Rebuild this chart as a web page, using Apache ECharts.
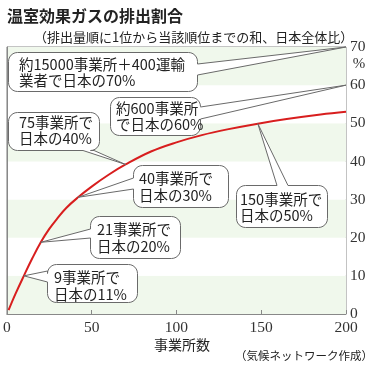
<!DOCTYPE html>
<html><head><meta charset="utf-8">
<script src="https://cdn.jsdelivr.net/npm/echarts/dist/echarts.min.js"></script>
<style>html,body{margin:0;padding:0;background:#fff}#c{width:379px;height:367px}</style>
</head><body><div id="c"></div>
<script>
// ---- data ----
const facilityCount = [1, 5, 10, 15, 20, 25, 30, 35, 42, 50, 60, 70, 85, 100, 115, 130, 148, 165, 185, 200];
const cumulativeShare = [1.0, 5.2, 10.0, 14.6, 18.8, 22.3, 25.2, 27.8, 30.6, 33.4, 36.5, 39.2, 42.6, 45.0, 46.9, 48.4, 49.9, 51.1, 52.3, 53.0];
const xTickValues = [0, 50, 100, 150, 200];
const yTickValues = [0, 10, 20, 30, 40, 50, 60, 70];
const titleText = "温室効果ガスの排出割合";
const subtitleText = "（排出量順に1位から当該順位までの和、日本全体比）";
const xAxisName = "事業所数";
const sourceText = "（気候ネットワーク作成）";
const calloutLines = [
  ["約15000事業所＋400運輸", "業者で日本の70%"],
  ["約600事業所", "で日本の60%"],
  ["75事業所で", "日本の40%"],
  ["40事業所で", "日本の30%"],
  ["150事業所で", "日本の50%"],
  ["21事業所で", "日本の20%"],
  ["9事業所で", "日本の11%"]
];
const calloutTipX = [200, 200, 70, 42, 148, 20, 10];
const calloutTipY = [70, 60, 39.2, 30.6, 49.9, 18.8, 10.0];

// ---- layout (pixels) ----
const boxLayout = [
  {x: 8, y: 52, w: 189, h: 39, side: 'right', a: 64, b: 75, tx: 19, ty: [64, 80]},
  {x: 110, y: 97, w: 90, h: 38, side: 'right', a: 107, b: 119, tx: 116, ty: [108, 124]},
  {x: 8, y: 112, w: 91, h: 38, side: 'bottom', a: 83, b: 94, tx: 19, ty: [122, 138]},
  {x: 133, y: 165, w: 95, h: 42, side: 'left', a: 178, b: 189, tx: 139, ty: [178, 195]},
  {x: 236, y: 185, w: 91, h: 42, side: 'top', a: 277, b: 288, tx: 240, ty: [199, 215]},
  {x: 90, y: 216, w: 90, h: 42, side: 'left', a: 229, b: 238, tx: 97, ty: [229, 246]},
  {x: 47, y: 264, w: 90, h: 38, side: 'left', a: 271, b: 282, tx: 54, ty: [277, 294]}
];

const chart = echarts.init(document.getElementById('c'), null, {renderer: 'canvas'});
const serif = '"Liberation Serif","DejaVu Serif",serif';
const jp = '"Noto Sans CJK JP","Noto Sans CJK SC",sans-serif';

const option = {
  animation: false,
  backgroundColor: '#ffffff',
  title: [
    {text: titleText, left: 2, top: 3, textStyle: {fontFamily: jp, fontSize: 16, fontWeight: 'bold', color: '#222'}},
    {text: subtitleText, left: 29, top: 26, textStyle: {fontFamily: jp, fontSize: 13, fontWeight: 'normal', color: '#222'}}
  ],
  grid: {left: 5, right: 33, top: 47, bottom: 53, show: true, borderColor: '#888', borderWidth: 1, backgroundColor: 'transparent'},
  xAxis: {
    type: 'value', min: 0, max: 200, interval: 50,
    name: xAxisName, nameLocation: 'middle', nameGap: 24, nameMoveOverlap: false,
    nameTextStyle: {fontFamily: jp, fontSize: 14, color: '#222', padding: [0, 0, 0, 11], verticalAlign: 'top'},
    axisLine: {show: true, lineStyle: {color: '#888'}},
    axisTick: {show: true, inside: true, length: 4, lineStyle: {color: '#888'}},
    axisLabel: {margin: 6, fontFamily: serif, fontSize: 15.5, color: '#333',
      formatter: v => xTickValues.includes(v) ? String(v) : ''},
    splitLine: {show: false}
  },
  yAxis: {
    type: 'value', position: 'right', min: 0, max: 70, interval: 10,
    axisLine: {show: true, lineStyle: {color: '#888'}},
    axisTick: {show: false},
    axisLabel: {margin: 4, fontFamily: serif, fontSize: 15.5, color: '#333',
      formatter: v => yTickValues.includes(v) ? String(v) : ''},
    splitLine: {show: false},
    splitArea: {show: true, areaStyle: {color: ['#f0f8ec', '#ffffff']}}
  },
  series: [{
    type: 'line', smooth: 0.4, symbol: 'none',
    data: facilityCount.map((x, i) => [x, cumulativeShare[i]]),
    lineStyle: {color: '#d81e1e', width: 2}, z: 2
  }]
};
chart.setOption(option);

function arcPts(cx, cy, r, a0, a1) {
  const pts = [];
  const n = 6;
  for (let k = 0; k <= n; k++) {
    const a = a0 + (a1 - a0) * k / n;
    pts.push([cx + r * Math.cos(a), cy + r * Math.sin(a)]);
  }
  return pts;
}
function bubblePoints(L, tip) {
  const x = L.x + 0.5, y = L.y + 0.5, w = L.w, h = L.h, r = 9;
  const R = x + w, B = y + h, P = Math.PI;
  let pts = [];
  pts = pts.concat(arcPts(x + r, y + r, r, P, 1.5 * P));
  if (L.side === 'top') pts.push([L.a, y], tip, [L.b, y]);
  pts = pts.concat(arcPts(R - r, y + r, r, 1.5 * P, 2 * P));
  if (L.side === 'right') pts.push([R, L.a], tip, [R, L.b]);
  pts = pts.concat(arcPts(R - r, B - r, r, 0, 0.5 * P));
  if (L.side === 'bottom') pts.push([L.b, B], tip, [L.a, B]);
  pts = pts.concat(arcPts(x + r, B - r, r, 0.5 * P, P));
  if (L.side === 'left') pts.push([x, L.b], tip, [x, L.a]);
  return pts;
}

const elements = [];
calloutLines.forEach((lines, i) => {
  const L = boxLayout[i];
  const tip = chart.convertToPixel({xAxisIndex: 0, yAxisIndex: 0}, [calloutTipX[i], calloutTipY[i]]);
  elements.push({
    type: 'polygon', z: 10, shape: {points: bubblePoints(L, tip)},
    style: {fill: '#ffffff', stroke: '#6a6a6a', lineWidth: 1}
  });
  lines.forEach((t, k) => {
    elements.push({
      type: 'text', z: 11,
      style: {text: t, x: L.tx, y: L.ty[k], fill: '#222', font: `14.5px ${jp}`, textVerticalAlign: 'middle', textAlign: 'left'}
    });
  });
});
const p70 = chart.convertToPixel({xAxisIndex: 0, yAxisIndex: 0}, [200, 70]);
elements.push({type: 'text', z: 11, style: {text: '%', x: p70[0] + 13, y: p70[1] + 17, fill: '#333', font: `15px ${serif}`, textAlign: 'center', textVerticalAlign: 'middle'}});
elements.push({type: 'text', z: 11, style: {text: sourceText, x: 373, y: 356, fill: '#222', font: `11.5px ${jp}`, textAlign: 'right', textVerticalAlign: 'middle'}});
chart.setOption({graphic: {elements: elements}});
</script>
</body></html>
